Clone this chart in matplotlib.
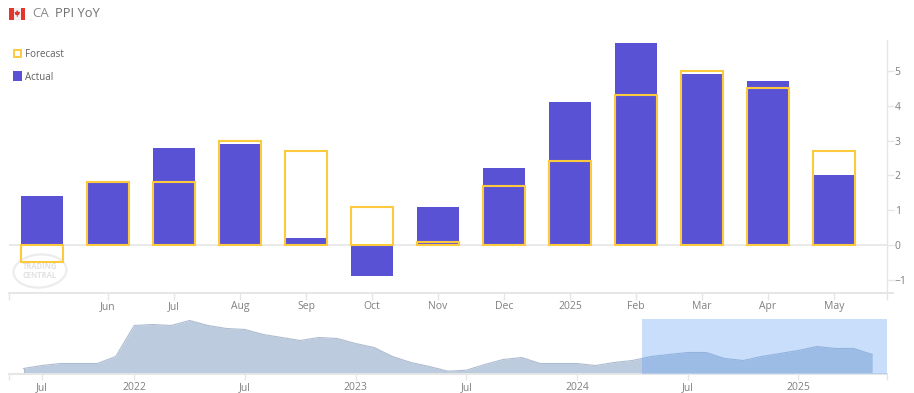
import matplotlib
matplotlib.use('Agg')
import matplotlib.pyplot as plt
from matplotlib.patches import Rectangle, Ellipse, Polygon

W = 914
H = 393

# main chart
months = ['', 'Jun', 'Jul', 'Aug', 'Sep', 'Oct', 'Nov', 'Dec', '2025', 'Feb', 'Mar', 'Apr', 'May']
actual = [1.4, 1.8, 2.8, 2.9, 0.2, -0.9, 1.1, 2.2, 4.1, 5.8, 4.9, 4.7, 2.0]
forecast = [-0.5, 1.8, 1.8, 3.0, 2.7, 1.1, 0.1, 1.7, 2.4, 4.3, 5.0, 4.5, 2.7]
y_ticks = [-1, 0, 1, 2, 3, 4, 5]

# navigator, monthly from Jul 2021, heights in arbitrary units
nav_values = [5, 8, 10, 10, 10, 17, 48, 49, 48, 53, 48, 45, 44, 39, 36, 33,
              36, 35, 30, 26, 17, 11, 7, 2.3, 3.3, 9, 14, 16, 10, 10, 10, 8,
              11, 13, 17, 19, 21, 21, 15, 13, 17, 20, 23, 27, 25, 25, 19]
nav_tick_pos = [1, 6, 12, 18, 24, 30, 36, 42]
nav_tick_labels = ['Jul', '2022', 'Jul', '2023', 'Jul', '2024', 'Jul', '2025']

BLUE = '#5a52d5'
YELLOW = '#fdc93d'
GREY = '#e6e6e6'
TEXT = '#808080'
PX_UNIT = 34.8

plt.rcParams['font.family'] = ['Open Sans', 'DejaVu Sans']


def px_axes(fig, left, top, right, bottom):
    return fig.add_axes([left / W, 1 - bottom / H, (right - left) / W, (bottom - top) / H])


def style_axis(ax):
    for s in ['top', 'left', 'right', 'bottom']:
        ax.spines[s].set_visible(False)
    ax.spines['bottom'].set_visible(True)
    ax.spines['bottom'].set_color(GREY)
    ax.spines['bottom'].set_linewidth(1.4)
    ax.patch.set_alpha(0)


fig = plt.figure(figsize=(W / 100, H / 100), dpi=100)
fig.patch.set_facecolor('white')

# overlay in pixel coords for header, legend and watermark
bg = fig.add_axes([0, 0, 1, 1])
bg.set_xlim(0, W)
bg.set_ylim(H, 0)
bg.axis('off')

bg.add_patch(Rectangle((9, 7.5), 16, 12, color='#f4f0f0', lw=0))
bg.add_patch(Rectangle((9, 7.5), 5, 12, color='#e2362f', lw=0))
bg.add_patch(Rectangle((20.5, 7.5), 4.5, 12, color='#e2362f', lw=0))
bg.add_patch(Polygon([(17.2, 10), (18.4, 12), (20, 11.8), (19.3, 14.5), (17.6, 15.5), (17.6, 17),
                      (16.9, 17), (16.9, 15.5), (15.2, 14.5), (14.5, 11.8), (16, 12)],
                     closed=True, color='#e2362f', lw=0))
bg.text(32, 13.5, 'CA', fontsize=9.5, color='#8a8a8a', va='center', ha='left')
bg.text(55, 13.5, 'PPI YoY', fontsize=9.3, color='#707070', va='center', ha='left')

bg.add_patch(Rectangle((13.5, 49.5), 7, 7.5, facecolor='white', edgecolor=YELLOW, lw=1.4))
bg.add_patch(Rectangle((12.5, 71), 9, 9.5, facecolor=BLUE, edgecolor='none'))
bg.text(25, 54.5, 'Forecast', fontsize=7, color='#606060', va='center', ha='left')
bg.text(25, 77, 'Actual', fontsize=7, color='#606060', va='center', ha='left')

bg.add_patch(Ellipse((40, 271), 53, 33, angle=-4, facecolor='none', edgecolor='#ececec', lw=1.6))
bg.text(40, 271, 'TRADING\nCENTRAL', fontsize=5.5, color='#e2e2e2', fontweight='bold',
        va='center', ha='center', linespacing=0.9)

# main bars
ax = px_axes(fig, 9, 40, 887, 293)
x = list(range(len(actual)))
ax.axhline(0, color=GREY, lw=1.2, zorder=1)
ax.bar(x, actual, width=42 / 66, color=BLUE, zorder=2)
ax.bar(x, forecast, width=42 / 66, facecolor='none', edgecolor=YELLOW, linewidth=1.5, zorder=3)
ax.set_xlim(-0.5, 12.803)
ax.set_ylim(-48 / PX_UNIT, 205 / PX_UNIT)
style_axis(ax)
ax.spines['right'].set_visible(True)
ax.spines['right'].set_color(GREY)
ax.spines['right'].set_linewidth(1)
ax.yaxis.tick_right()
ax.set_yticks(y_ticks)
ax.set_xticks(x[1:] + [-0.5, 12.803])
ax.set_xticklabels(months[1:] + ['', ''])
ax.tick_params(axis='y', length=5, width=1, color=GREY, labelcolor=TEXT, labelsize=7.5, pad=0.5)
ax.tick_params(axis='x', length=5, width=1, color=GREY, labelcolor=TEXT, labelsize=7.5, pad=1)
ax.plot([12.803, 12.9], [-48 / PX_UNIT, -48 / PX_UNIT], color=GREY, lw=1.4, clip_on=False)

# navigator
nav = px_axes(fig, 9, 319, 887, 373.5)
nav_x = list(range(len(nav_values)))
nav.fill_between(nav_x, nav_values, 0, color='#bccbde', lw=0, zorder=1)
nav.plot(nav_x, nav_values, color='#aebcd0', lw=0.8, zorder=2)
nav.plot([0, 0], [0, nav_values[0]], color='#aebcd0', lw=0.8, zorder=2)
per_px = 1 / 18.45
nav.set_xlim(-14.5 * per_px, (887 - 23.5) * per_px)
nav.set_ylim(0, 54.5)
nav.axvspan((642 - 23.5) * per_px, (887 - 23.5) * per_px, color='#62a2f5', alpha=0.35, lw=0, zorder=3)
style_axis(nav)
nav.set_xticks(nav_tick_pos + [nav.get_xlim()[0], nav.get_xlim()[1]])
nav.set_xticklabels(nav_tick_labels + ['', ''])
nav.set_yticks([])
nav.tick_params(axis='x', length=4, width=1, color=GREY, labelcolor=TEXT, labelsize=7.5, pad=2)

fig.savefig('out.png', dpi=100)
